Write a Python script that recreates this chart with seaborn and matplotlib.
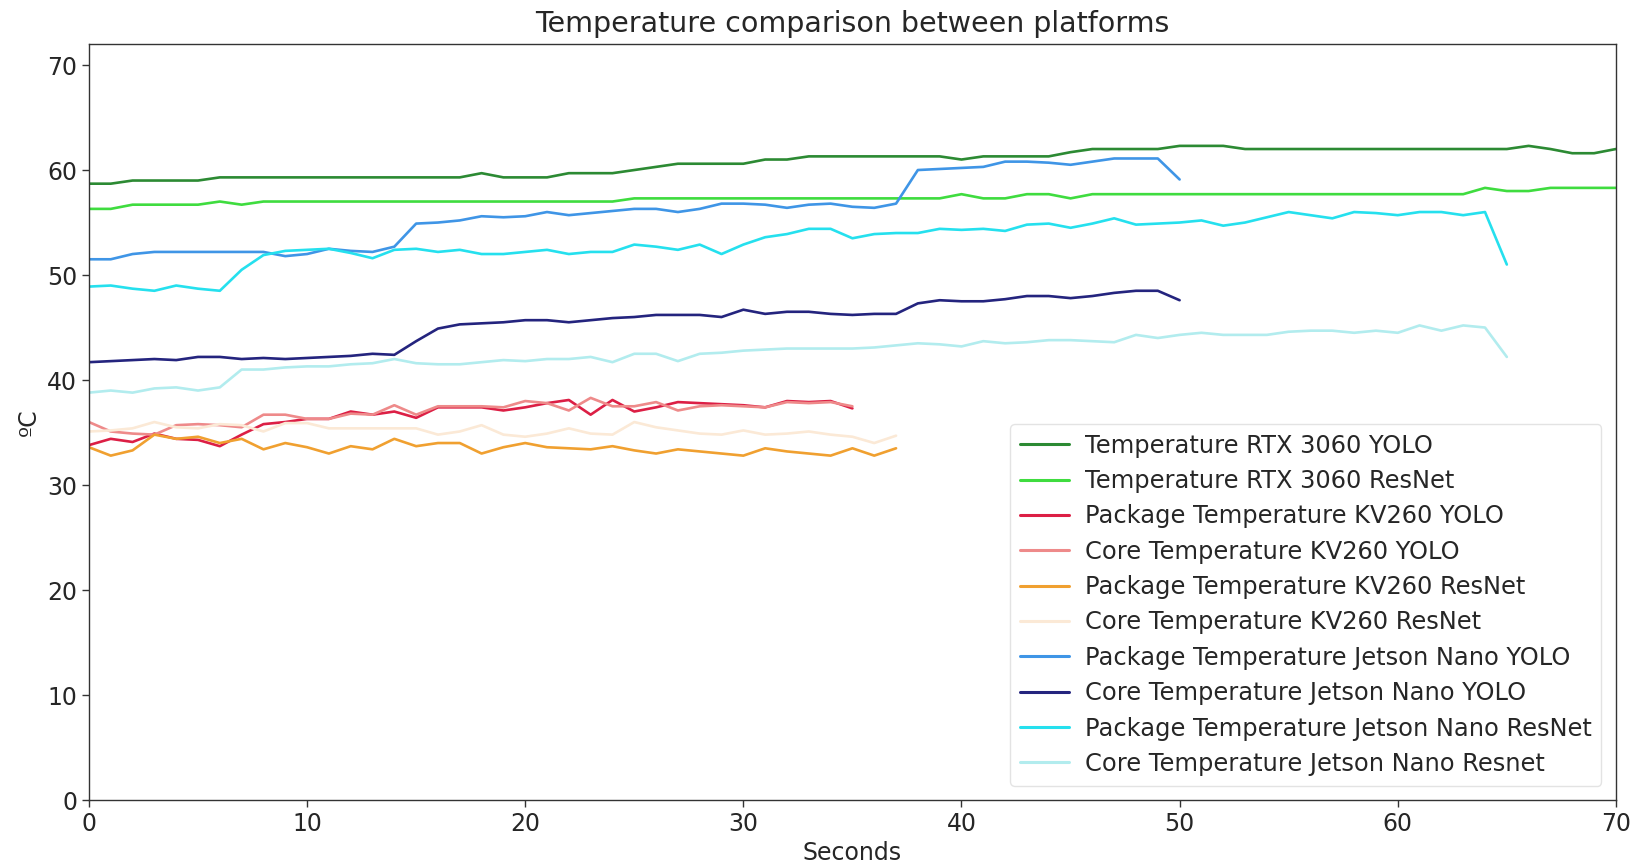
import numpy as np
import pandas as pd
import matplotlib
matplotlib.use("Agg")
import matplotlib.pyplot as plt
import seaborn as sns

# ---- data (seconds -> temperature ºC) ----
rtx_yolo = [58.7, 58.7, 59.0, 59.0, 59.0, 59.0,
            59.3, 59.3, 59.3, 59.3, 59.3, 59.3, 59.3, 59.3, 59.3, 59.3, 59.3, 59.3,
            59.7, 59.3, 59.3, 59.3, 59.7, 59.7, 59.7, 60.0, 60.3,
            60.6, 60.6, 60.6, 60.6, 61.0, 61.0,
            61.3, 61.3, 61.3, 61.3, 61.3, 61.3, 61.3, 61.0,
            61.3, 61.3, 61.3, 61.3, 61.7, 62.0, 62.0, 62.0, 62.0,
            62.3, 62.3, 62.3,
            62.0, 62.0, 62.0, 62.0, 62.0, 62.0, 62.0, 62.0, 62.0, 62.0, 62.0, 62.0, 62.0,
            62.3, 62.0, 61.6, 61.6, 62.0]
rtx_resnet = [56.3, 56.3, 56.7, 56.7, 56.7, 56.7, 57.0, 56.7,
              57.0, 57.0, 57.0, 57.0, 57.0, 57.0, 57.0, 57.0, 57.0, 57.0, 57.0, 57.0, 57.0, 57.0, 57.0, 57.0, 57.0,
              57.3, 57.3, 57.3, 57.3, 57.3, 57.3, 57.3, 57.3, 57.3, 57.3, 57.3, 57.3, 57.3, 57.3, 57.3,
              57.7, 57.3, 57.3, 57.7, 57.7, 57.3,
              57.7, 57.7, 57.7, 57.7, 57.7, 57.7, 57.7, 57.7, 57.7, 57.7, 57.7, 57.7, 57.7, 57.7, 57.7, 57.7, 57.7, 57.7,
              58.3, 58.0, 58.0, 58.3, 58.3, 58.3, 58.3]
kv_pkg_yolo = [33.8, 34.4, 34.1, 34.9, 34.4, 34.3, 33.7, 34.8, 35.8, 36.0,
               36.3, 36.3, 37.0, 36.7, 37.0, 36.4, 37.4, 37.4, 37.4, 37.1,
               37.4, 37.8, 38.1, 36.7, 38.1, 37.0, 37.4, 37.9, 37.8, 37.7,
               37.6, 37.4, 38.0, 37.9, 38.0, 37.3]
kv_core_yolo = [36.0, 35.1, 34.9, 34.8, 35.7, 35.8, 35.7, 35.5, 36.7, 36.7,
                36.3, 36.3, 36.8, 36.7, 37.6, 36.7, 37.5, 37.5, 37.5, 37.4,
                38.0, 37.8, 37.1, 38.3, 37.5, 37.5, 37.9, 37.1, 37.5, 37.6,
                37.5, 37.4, 37.9, 37.8, 37.9, 37.5]
kv_pkg_resnet = [33.6, 32.8, 33.3, 34.8, 34.4, 34.6, 34.0, 34.4, 33.4, 34.0,
                 33.6, 33.0, 33.7, 33.4, 34.4, 33.7, 34.0, 34.0, 33.0, 33.6,
                 34.0, 33.6, 33.5, 33.4, 33.7, 33.3, 33.0, 33.4, 33.2, 33.0,
                 32.8, 33.5, 33.2, 33.0, 32.8, 33.5, 32.8, 33.5]
kv_core_resnet = [35.1, 35.2, 35.4, 36.0, 35.5, 35.4, 35.8, 35.7, 35.1, 35.9,
                  35.9, 35.4, 35.4, 35.4, 35.4, 35.4, 34.8, 35.1, 35.7, 34.8,
                  34.6, 34.9, 35.4, 34.9, 34.8, 36.0, 35.5, 35.2, 34.9, 34.8,
                  35.2, 34.8, 34.9, 35.1, 34.8, 34.6, 34.0, 34.7]
jetson_pkg_yolo = [51.5, 51.5, 52.0, 52.2, 52.2, 52.2, 52.2, 52.2, 52.2, 51.8,
                   52.0, 52.5, 52.3, 52.2, 52.7, 54.9, 55.0, 55.2, 55.6, 55.5,
                   55.6, 56.0, 55.7, 55.9, 56.1, 56.3, 56.3, 56.0, 56.3, 56.8,
                   56.8, 56.7, 56.4, 56.7, 56.8, 56.5, 56.4, 56.8, 60.0, 60.1,
                   60.2, 60.3, 60.8, 60.8, 60.7, 60.5, 60.8, 61.1, 61.1, 61.1,
                   59.1]
jetson_core_yolo = [41.7, 41.8, 41.9, 42.0, 41.9, 42.2, 42.2, 42.0, 42.1, 42.0,
                    42.1, 42.2, 42.3, 42.5, 42.4, 43.7, 44.9, 45.3, 45.4, 45.5,
                    45.7, 45.7, 45.5, 45.7, 45.9, 46.0, 46.2, 46.2, 46.2, 46.0,
                    46.7, 46.3, 46.5, 46.5, 46.3, 46.2, 46.3, 46.3, 47.3, 47.6,
                    47.5, 47.5, 47.7, 48.0, 48.0, 47.8, 48.0, 48.3, 48.5, 48.5,
                    47.6]
jetson_pkg_resnet = [48.9, 49.0, 48.7, 48.5, 49.0, 48.7, 48.5, 50.5, 51.9, 52.3,
                     52.4, 52.5, 52.1, 51.6, 52.4, 52.5, 52.2, 52.4, 52.0, 52.0,
                     52.2, 52.4, 52.0, 52.2, 52.2, 52.9, 52.7, 52.4, 52.9, 52.0,
                     52.9, 53.6, 53.9, 54.4, 54.4, 53.5, 53.9, 54.0, 54.0, 54.4,
                     54.3, 54.4, 54.2, 54.8, 54.9, 54.5, 54.9, 55.4, 54.8, 54.9,
                     55.0, 55.2, 54.7, 55.0, 55.5, 56.0, 55.7, 55.4, 56.0, 55.9,
                     55.7, 56.0, 56.0, 55.7, 56.0, 51.0]
jetson_core_resnet = [38.8, 39.0, 38.8, 39.2, 39.3, 39.0, 39.3, 41.0, 41.0, 41.2,
                      41.3, 41.3, 41.5, 41.6, 42.0, 41.6, 41.5, 41.5, 41.7, 41.9,
                      41.8, 42.0, 42.0, 42.2, 41.7, 42.5, 42.5, 41.8, 42.5, 42.6,
                      42.8, 42.9, 43.0, 43.0, 43.0, 43.0, 43.1, 43.3, 43.5, 43.4,
                      43.2, 43.7, 43.5, 43.6, 43.8, 43.8, 43.7, 43.6, 44.3, 44.0,
                      44.3, 44.5, 44.3, 44.3, 44.3, 44.6, 44.7, 44.7, 44.5, 44.7,
                      44.5, 45.2, 44.7, 45.2, 45.0, 42.2]

labels = ["Temperature RTX 3060 YOLO",
          "Temperature RTX 3060 ResNet",
          "Package Temperature KV260 YOLO",
          "Core Temperature KV260 YOLO",
          "Package Temperature KV260 ResNet",
          "Core Temperature KV260 ResNet",
          "Package Temperature Jetson Nano YOLO",
          "Core Temperature Jetson Nano YOLO",
          "Package Temperature Jetson Nano ResNet",
          "Core Temperature Jetson Nano Resnet"]
series = [rtx_yolo, rtx_resnet, kv_pkg_yolo, kv_core_yolo, kv_pkg_resnet,
          kv_core_resnet, jetson_pkg_yolo, jetson_core_yolo,
          jetson_pkg_resnet, jetson_core_resnet]
colors = ["#2c8a33", "#3fdc3f", "#dc1f45", "#ee8a8a", "#f0a030",
          "#fbe9d6", "#3f95e6", "#24247e", "#25e0ee", "#b2ecee"]

frames = []
for lab, vals in zip(labels, series):
    frames.append(pd.DataFrame({"Seconds": np.arange(len(vals)),
                                "Temp": vals, "Series": lab}))
df = pd.concat(frames, ignore_index=True)

sns.set_style("ticks")
plt.rcParams['font.family'] = ['DejaVu Sans']

fig = plt.figure(figsize=(16.41, 8.65), dpi=100)
ax = fig.add_axes([0.0542, 0.0751, 0.9305, 0.874])

sns.lineplot(data=df, x="Seconds", y="Temp", hue="Series", hue_order=labels,
             palette=dict(zip(labels, colors)), linewidth=1.9, ax=ax,
             estimator=None, sort=False)

ax.set_xlim(0, 70)
ax.set_ylim(0, 72)
ax.set_yticks(range(0, 71, 10))
ax.set_xticks(range(0, 71, 10))
ax.tick_params(labelsize=17, length=5, width=1, color="#333333")
ax.set_xlabel("Seconds", fontsize=17, labelpad=4)
ax.set_ylabel("ºC", fontsize=17, labelpad=4)
ax.set_title("Temperature comparison between platforms", fontsize=20.5, pad=9)
for sp in ax.spines.values():
    sp.set_color("#333333")
    sp.set_linewidth(1.0)

leg = ax.legend(loc="lower right", fontsize=17.4, frameon=True,
                handlelength=2.05, handletextpad=0.65, borderaxespad=0.6,
                labelspacing=0.47)
leg.get_frame().set_edgecolor("#dddddd")
for ln in leg.get_lines():
    ln.set_linewidth(2.2)

fig.savefig("out.png", dpi=100)
